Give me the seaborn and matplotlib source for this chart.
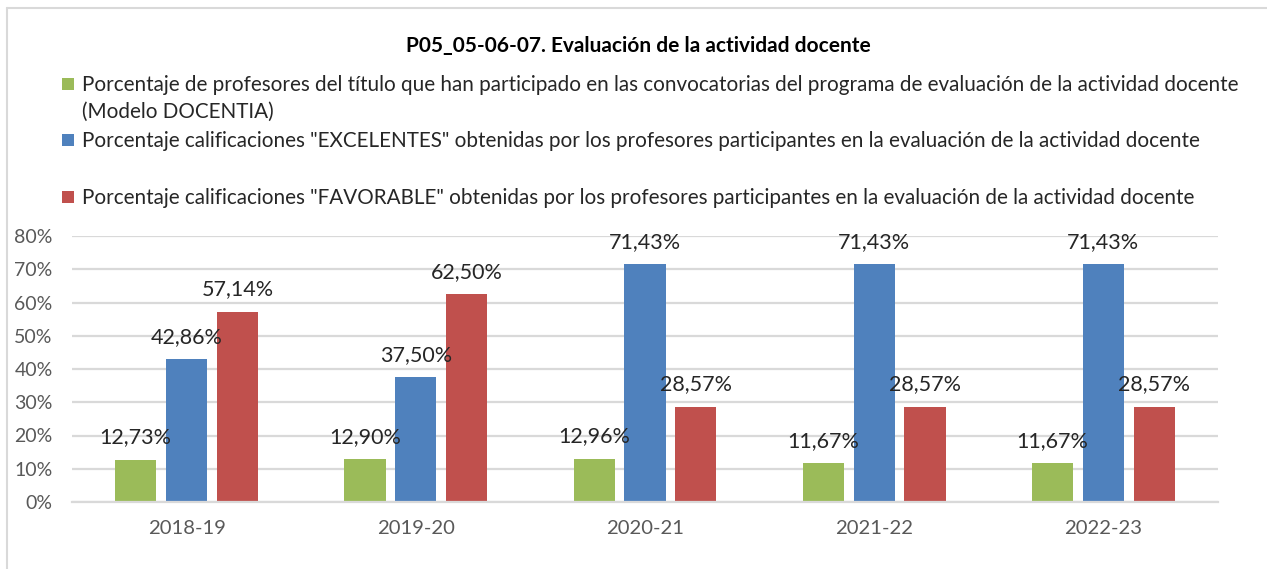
import matplotlib
matplotlib.use("Agg")
import matplotlib.pyplot as plt
import seaborn as sns
import pandas as pd
from matplotlib.patches import Rectangle
from matplotlib.lines import Line2D

# ---- data ----
cursos = ["2018-19", "2019-20", "2020-21", "2021-22", "2022-23"]
participacion = [12.73, 12.90, 12.96, 11.67, 11.67]
excelentes = [42.86, 37.50, 71.43, 71.43, 71.43]
favorable = [57.14, 62.50, 28.57, 28.57, 28.57]
series = [
    "Porcentaje de profesores del título que han participado en las convocatorias del programa de evaluación de la actividad docente\n(Modelo DOCENTIA)",
    'Porcentaje calificaciones "EXCELENTES" obtenidas por los profesores participantes en la evaluación de la actividad docente',
    'Porcentaje calificaciones "FAVORABLE" obtenidas por los profesores participantes en la evaluación de la actividad docente',
]
colores = ["#9BBB59", "#4F81BD", "#C0504D"]
titulo = "P05_05-06-07. Evaluación de la actividad docente"
yticks = [0, 10, 20, 30, 40, 50, 60, 70, 80]

rows = []
for vals, s in zip([participacion, excelentes, favorable], series):
    for c, v in zip(cursos, vals):
        rows.append({"curso": c, "valor": v, "serie": s})
df = pd.DataFrame(rows)

sns.set_theme(style="white")
plt.rcParams["font.family"] = ["Lato", "DejaVu Sans"]

W, H = 1267, 569
fig = plt.figure(figsize=(W / 100, H / 100), dpi=100)
ax = fig.add_axes([72 / W, 1 - 502 / H, (1218 - 72) / W, (502 - 236) / H])

sns.barplot(data=df, x="curso", y="valor", hue="serie", order=cursos,
            hue_order=series, palette=colores, width=0.665, gap=0.19,
            saturation=1, legend=False, ax=ax, edgecolor="none")

ax.set_ylim(0, 80)
ax.set_xlim(-0.5, len(cursos) - 0.5)
ax.set_yticks(yticks)
ax.set_yticklabels([f"{t}%" for t in yticks])
ax.set_xlabel("")
ax.set_ylabel("")
ax.yaxis.grid(True, color="#D9D9D9", linewidth=1.6)
ax.set_axisbelow(True)
for sp in ["top", "right", "left"]:
    ax.spines[sp].set_visible(False)
ax.spines["bottom"].set_color("#D9D9D9")
ax.spines["bottom"].set_linewidth(1.6)
ax.tick_params(axis="y", length=0, pad=14, labelsize=14, labelcolor="#595959")
ax.tick_params(axis="x", length=0, pad=13, labelsize=14.6, labelcolor="#595959")

for cont in ax.containers:
    labs = [f"{b.get_height():.2f}".replace(".", ",") + "%" for b in cont]
    ax.bar_label(cont, labels=labs, padding=9, fontsize=15.5, color="#262626")

# title
fig.text(638 / W, 1 - 46 / H, titulo, ha="center", va="center",
         fontsize=15, fontweight="bold", color="#000000")

# legend (manual, Excel-like layout)
leg_y = [84, 140, 197]
for s, c, y in zip(series, colores, leg_y):
    fig.patches.append(Rectangle((62 / W, 1 - (y + 6) / H), 12 / W, 12 / H,
                                 transform=fig.transFigure, facecolor=c,
                                 edgecolor="none"))
    fig.text(82 / W, 1 - (y - 9) / H, s, ha="left", va="top",
             fontsize=14.9, color="#262626", linespacing=1.4)

# outer border
fig.add_artist(Line2D([7 / W, 7 / W], [0, 1 - 8 / H], transform=fig.transFigure,
                      color="#D9D9D9", linewidth=1.5))
fig.add_artist(Line2D([7 / W, 1], [1 - 8 / H, 1 - 8 / H], transform=fig.transFigure,
                      color="#D9D9D9", linewidth=1.5))

fig.savefig("out.png", dpi=100)
